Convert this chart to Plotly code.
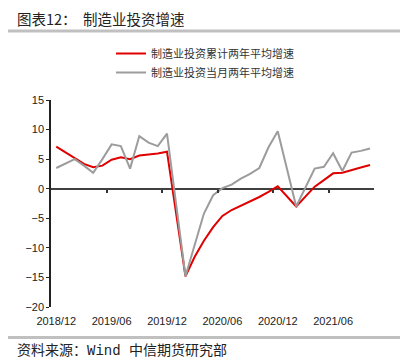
import plotly.graph_objects as go

# ---------------- data ----------------
months = ["2018/12",
          "2019/02", "2019/03", "2019/04", "2019/05", "2019/06", "2019/07", "2019/08",
          "2019/09", "2019/10", "2019/11", "2019/12",
          "2020/02", "2020/03", "2020/04", "2020/05", "2020/06", "2020/07", "2020/08",
          "2020/09", "2020/10", "2020/11", "2020/12",
          "2021/02", "2021/03", "2021/04", "2021/05", "2021/06", "2021/07", "2021/08",
          "2021/09", "2021/10"]
cumulative_2y = [7.1,
                 5.1, 4.2, 3.65, 3.9, 4.9, 5.3, 5.0, 5.6, 5.8, 5.95, 6.25,
                 -14.8, -11.5, -8.8, -6.5, -4.6, -3.6, -2.9, -2.1, -1.4, -0.55, 0.4,
                 -3.0, -1.3, 0.35, 1.45, 2.6, 2.7, 3.2, 3.6, 4.0]
monthly_2y = [3.5,
              5.0, 3.9, 2.7, 5.0, 7.5, 7.2, 3.4, 8.9, 7.8, 7.2, 9.3,
              -14.8, -9.4, -4.2, -1.1, 0.1, 0.7, 1.7, 2.5, 3.5, 7.0, 9.7,
              -3.0, 0.2, 3.4, 3.7, 6.0, 3.0, 6.1, 6.4, 6.8]
tick_labels = ["2018/12", "2019/06", "2019/12", "2020/06", "2020/12", "2021/06"]
y_ticks = [15, 10, 5, 0, -5, -10, -15, -20]

series_names = ["制造业投资累计两年平均增速", "制造业投资当月两年平均增速"]
title_text = "图表12：  制造业投资增速"
source_text = "资料来源：<span style='font-family:Liberation Mono'>Wind </span>中信期货研究部"


def month_index(label):
    y, m = label.split("/")
    return (int(y) - 2018) * 12 + int(m) - 12


x_vals = [month_index(m) for m in months]
tick_pos = [month_index(t) for t in tick_labels]
minor_tick_pos = [p - 0.5 for p in tick_pos[1:]]

# ---------------- layout geometry ----------------
# the page body has an 8px margin, so the figure is drawn at (8, 8)
OFF = 8
W, H = 408 - OFF, 360 - OFF
ml, mr, mt, mb = 51 - OFF, 34, 100 - OFF, 360 - 307
CJK = "Noto Sans CJK SC"


def px(p):
    return (p - OFF - ml) / (W - ml - mr)


def py(p):
    return (H - mb - (p - OFF)) / (H - mt - mb)


fig = go.Figure()
fig.add_trace(go.Scatter(x=x_vals, y=cumulative_2y, mode="lines", name=series_names[0],
                         line=dict(color="#E00000", width=2)))
fig.add_trace(go.Scatter(x=x_vals, y=monthly_2y, mode="lines", name=series_names[1],
                         line=dict(color="#9C9C9C", width=2)))

# invisible trace for secondary x-axis (ticks on the zero line)
fig.add_trace(go.Scatter(x=[x_vals[0]], y=[0], xaxis="x2", mode="lines",
                         showlegend=False, hoverinfo="skip", line=dict(width=0)))

x_range = [-0.57, 34.43]
y_range = [-20, 15]

fig.update_layout(
    width=W, height=H,
    margin=dict(l=ml, r=mr, t=mt, b=mb),
    paper_bgcolor="white", plot_bgcolor="white",
    showlegend=True,
    legend=dict(x=px(111), y=py(39), xanchor="left", yanchor="top",
                font=dict(family=CJK, size=11, color="#333333"),
                bgcolor="rgba(0,0,0,0)", tracegroupgap=0, itemwidth=30),
    xaxis=dict(range=x_range, showgrid=False, zeroline=False, showline=False,
               tickmode="array", tickvals=tick_pos, ticktext=tick_labels,
               ticks="", tickfont=dict(family="Liberation Sans", size=11, color="#222222"),
               ticklabelstandoff=6),
    xaxis2=dict(range=x_range, overlaying="x", anchor="free",
                position=(0 - y_range[0]) / (y_range[1] - y_range[0]),
                showgrid=False, zeroline=False, showline=False,
                tickmode="array", tickvals=minor_tick_pos, ticks="outside",
                ticklen=3, tickwidth=1.5, tickcolor="#333333", showticklabels=False),
    yaxis=dict(range=y_range, showgrid=False, zeroline=True, zerolinecolor="#404040",
               zerolinewidth=2, showline=True, linecolor="#222222", linewidth=1.5,
               tickmode="array", tickvals=y_ticks, ticks="outside", ticklen=3,
               tickcolor="#222222", tickwidth=1,
               tickfont=dict(family="Liberation Sans", size=11, color="#222222")),
    annotations=[
        dict(text=title_text, x=px(15), y=py(18), xref="paper", yref="paper",
             xanchor="left", yanchor="middle", showarrow=False,
             font=dict(family=CJK, size=14.5, color="#222222")),
        dict(text=source_text, x=px(15), y=py(349), xref="paper", yref="paper",
             xanchor="left", yanchor="middle", showarrow=False,
             font=dict(family=CJK, size=14, color="#222222")),
    ],
    shapes=[
        dict(type="line", xref="paper", yref="paper", x0=px(6), x1=px(408),
             y0=py(31), y1=py(31), line=dict(color="#C0C0C0", width=3)),
        dict(type="line", xref="paper", yref="paper", x0=px(6), x1=px(408),
             y0=py(337.5), y1=py(337.5), line=dict(color="#C0C0C0", width=3)),
    ],
)

fig.write_html("out.html")
